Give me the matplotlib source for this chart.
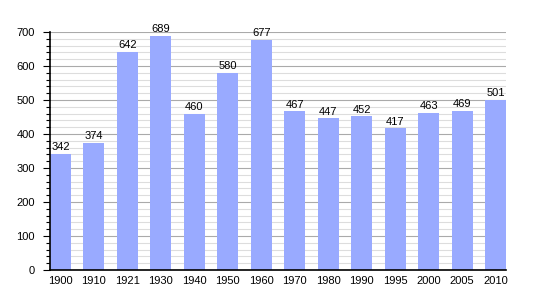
import matplotlib
matplotlib.use("Agg")
import matplotlib.pyplot as plt
from matplotlib.ticker import MultipleLocator

years = ["1900", "1910", "1921", "1930", "1940", "1950", "1960",
         "1970", "1980", "1990", "1995", "2000", "2005", "2010"]
population = [342, 374, 642, 689, 460, 580, 677, 467, 447, 452, 417, 463, 469, 501]

plt.rcParams["font.family"] = ["Liberation Sans", "DejaVu Sans"]

fig = plt.figure(figsize=(5.35, 3.0), dpi=100)
ax = fig.add_axes([50 / 535, 30 / 300, 456 / 535, 238 / 300])

x = range(len(years))
ax.bar(x, population, width=0.62, color="#99aaff", zorder=2)
for xi, v in zip(x, population):
    ax.text(xi, v + 4, str(v), ha="center", va="bottom", fontsize=8, zorder=3)

ax.set_xlim(-0.31, len(years) - 1 + 0.31)
ax.set_ylim(0, 700)
ax.set_xticks(list(x))
ax.set_xticklabels(years)
ax.yaxis.set_major_locator(MultipleLocator(100))
ax.yaxis.set_minor_locator(MultipleLocator(20))
ax.grid(axis="y", which="major", color="#aaaaaa", lw=0.8, zorder=0)
ax.grid(axis="y", which="minor", color="#dddddd", lw=0.8, zorder=0)
ax.tick_params(axis="y", which="major", length=5, width=0.8, labelsize=8, pad=6)
ax.tick_params(axis="y", which="minor", length=3, width=0.8)
ax.tick_params(axis="x", length=0, labelsize=8, pad=4)
for s in ["top", "right"]:
    ax.spines[s].set_visible(False)
ax.spines["left"].set_linewidth(1.2)
ax.spines["bottom"].set_linewidth(1.2)

fig.savefig("out.png", dpi=100)
